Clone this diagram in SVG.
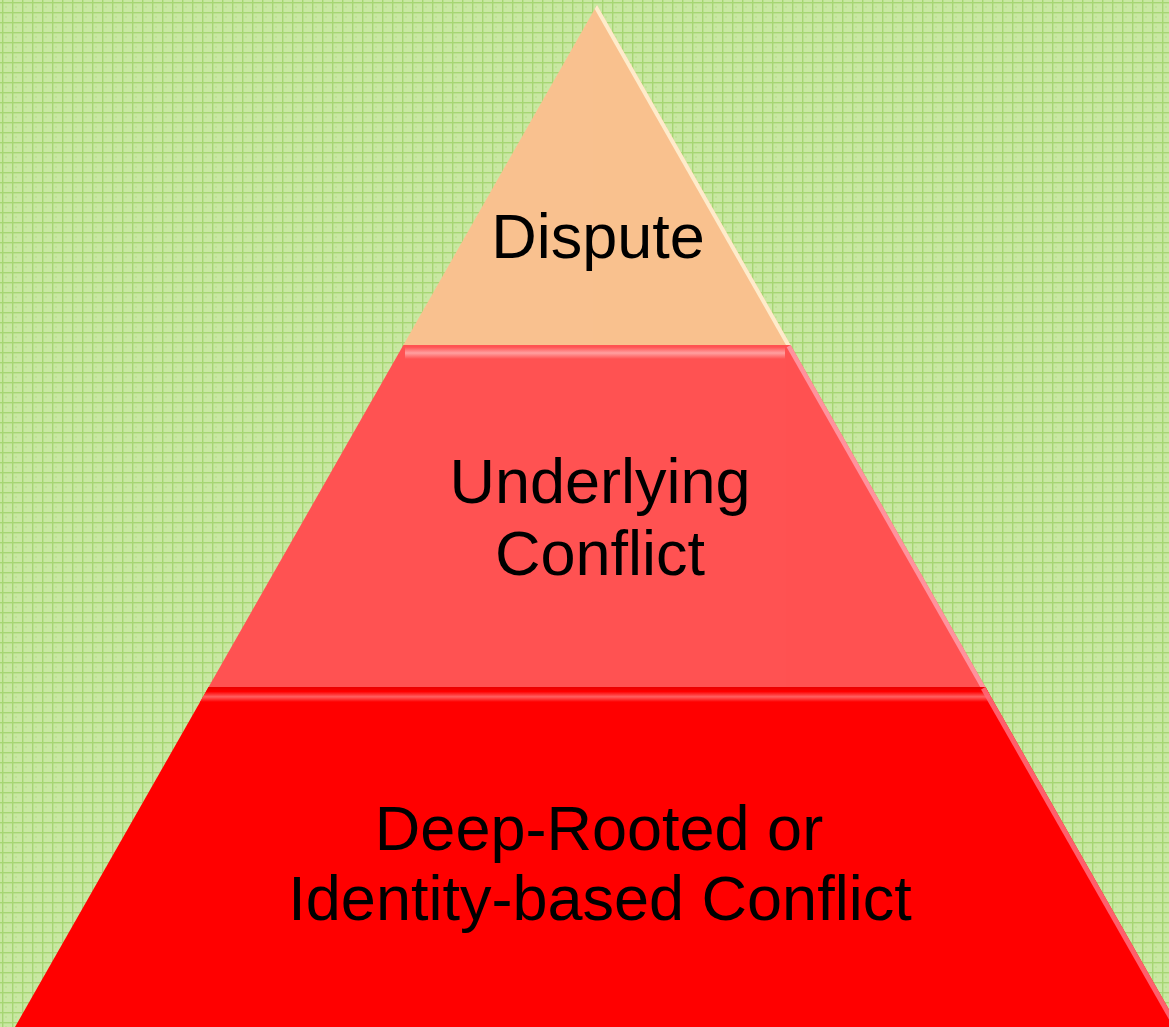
<svg xmlns="http://www.w3.org/2000/svg" width="1169" height="1027" viewBox="0 0 1169 1027">
  <defs>
    <pattern id="grid" width="10" height="10" patternUnits="userSpaceOnUse">
      <rect width="10" height="10" fill="#c9e8a3"/>
      <rect x="2" y="0" width="1.4" height="10" fill="#a6d673"/>
      <rect x="0" y="2" width="10" height="1.4" fill="#a6d673"/>
      <rect x="5" y="6" width="2" height="2" fill="#bfe296"/>
    </pattern>
    <linearGradient id="stripeMid" x1="0" y1="0" x2="0" y2="1">
      <stop offset="0" stop-color="#ff5252"/>
      <stop offset="0.5" stop-color="#ffa0a0"/>
      <stop offset="1" stop-color="#ff5252"/>
    </linearGradient>
    <linearGradient id="stripeBot" x1="0" y1="0" x2="0" y2="1">
      <stop offset="0" stop-color="#e80000"/>
      <stop offset="0.3" stop-color="#ff0000"/>
      <stop offset="0.65" stop-color="#ff6060"/>
      <stop offset="1" stop-color="#ff0000"/>
    </linearGradient>
    <clipPath id="clipTop"><polygon points="597,5 790.6,345 403.4,345"/></clipPath>
    <clipPath id="clipMid"><polygon points="403.4,345 790.6,345 985.4,687 208.6,687"/></clipPath>
    <clipPath id="clipBot"><polygon points="208.6,687 985.4,687 1179,1027 15,1027"/></clipPath>
    <style>
      .lbl { font-family: "Liberation Sans", Arial, sans-serif; font-size: 63px; fill: #000; text-anchor: middle; }
    </style>
  </defs>
  <rect width="1169" height="1027" fill="url(#grid)"/>

  <g id="tier-dispute">
    <polygon points="597,5 790.6,345 403.4,345" fill="#f9c18f"/>
    <g clip-path="url(#clipTop)">
      <line x1="597" y1="5" x2="790.6" y2="345" stroke="#fff3d6" stroke-width="8" opacity="0.85"/>
    </g>
    <text class="lbl" x="598" y="258">Dispute</text>
  </g>

  <g id="tier-underlying">
    <polygon points="403.4,345 790.6,345 985.4,687 208.6,687" fill="#ff5252"/>
    <g clip-path="url(#clipMid)">
      <rect x="405" y="347" width="380" height="12" fill="url(#stripeMid)"/>
      <line x1="790.6" y1="345" x2="985.4" y2="687" stroke="#ff9aa6" stroke-width="9" opacity="0.9"/>
    </g>
    <text class="lbl" x="600" y="503">Underlying</text>
    <text class="lbl" x="600" y="575">Conflict</text>
  </g>

  <g id="tier-deep">
    <polygon points="208.6,687 985.4,687 1179,1027 15,1027" fill="#ff0000"/>
    <g clip-path="url(#clipBot)">
      <rect x="200" y="687" width="790" height="15" fill="url(#stripeBot)"/>
      <line x1="985.4" y1="687" x2="1179" y2="1027" stroke="#ff6a78" stroke-width="10" opacity="0.9"/>
    </g>
    <text class="lbl" x="599" y="850">Deep-Rooted or</text>
    <text class="lbl" x="600" y="920">Identity-based Conflict</text>
  </g>

  <g id="connectors"></g>
</svg>
